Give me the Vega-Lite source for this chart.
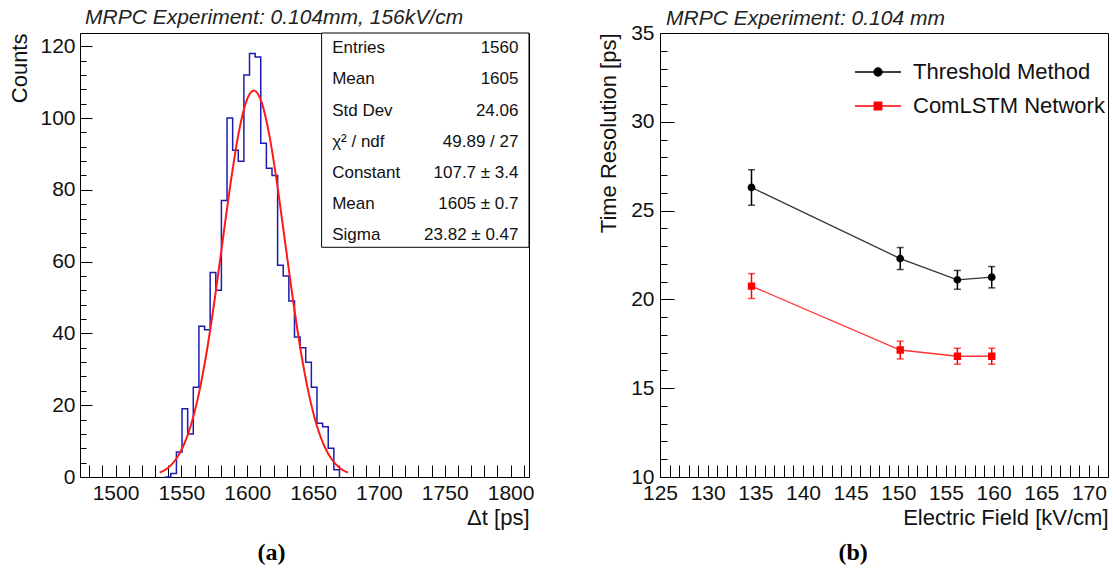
{
  "$schema": "https://vega.github.io/schema/vega-lite/v6.json",
  "background": "white",
  "padding": {"left": 8, "top": 6, "right": 2, "bottom": 2},
  "spacing": 62,
  "resolve": {"legend": {"color": "independent", "shape": "independent"}},
  "config": {
    "view": {"stroke": "black", "strokeWidth": 1},
    "font": "Liberation Sans",
    "axis": {"grid": false, "domain": false, "ticks": true, "tickColor": "black", "labelFont": "Liberation Sans", "labelFontSize": 21, "labelColor": "#111", "titleFont": "Liberation Sans", "titleFontSize": 22, "titleFontWeight": "normal", "titleColor": "#111", "labelFlush": false, "labelOverlap": false, "labelBound": false, "tickWidth": 1, "tickCount": 200, "format": "d"},
    "title": {"font": "Liberation Sans", "fontSize": 21, "fontStyle": "italic", "fontWeight": "normal", "color": "#222"}
  },
  "hconcat": [
    {
      "title": {"text": "(a)", "orient": "bottom", "font": "Liberation Serif", "fontStyle": "normal", "fontWeight": "bold", "fontSize": 24, "color": "#000", "anchor": "middle", "offset": 12},
      "vconcat": [
        {
          "width": 449,
          "height": 444,
          "title": {"text": "MRPC Experiment: 0.104mm, 156kV/cm", "anchor": "start", "frame": "group", "dx": 5, "offset": 5},
          "layer": [
            {
              "layer": [
                {
                  "data": {"values": [{"t":1537.69,"n":0},{"t":1541.96,"n":1},{"t":1546.23,"n":7},{"t":1550.5,"n":19},{"t":1554.77,"n":12},{"t":1559.04,"n":25},{"t":1563.31,"n":42},{"t":1567.58,"n":41},{"t":1571.85,"n":57},{"t":1576.12,"n":52},{"t":1580.39,"n":77},{"t":1584.66,"n":100},{"t":1588.93,"n":91},{"t":1593.2,"n":88},{"t":1597.47,"n":112},{"t":1601.74,"n":118},{"t":1606.01,"n":117},{"t":1610.28,"n":93},{"t":1614.55,"n":86},{"t":1618.82,"n":84},{"t":1623.09,"n":59},{"t":1627.36,"n":56},{"t":1631.63,"n":49},{"t":1635.9,"n":39},{"t":1640.17,"n":36},{"t":1644.44,"n":32},{"t":1648.71,"n":25},{"t":1652.98,"n":15},{"t":1657.25,"n":14},{"t":1661.52,"n":8},{"t":1665.79,"n":2},{"t":1670.06,"n":0}]},
                  "mark": {"type": "line", "interpolate": "step-after", "color": "#1c1cb0", "strokeWidth": 1.5},
                  "encoding": {
                    "x": {"field": "t", "type": "quantitative", "scale": {"domain": [1473, 1814], "nice": false, "zero": false},
                      "axis": {"title": "Δt [ps]", "titleAnchor": "end", "titlePadding": 4, "format": "d", "labelOverlap": false, "tickCount": 200, "ticks": true, "domain": false,
                        "values": [1480,1490,1500,1510,1520,1530,1540,1550,1560,1570,1580,1590,1600,1610,1620,1630,1640,1650,1660,1670,1680,1690,1700,1710,1720,1730,1740,1750,1760,1770,1780,1790,1800,1810],
                        "labelExpr": "datum.value % 50 === 0 ? datum.label : ''",
                        "offset": -12, "tickSize": 12, "labelPadding": 5,
                        "encode": {"ticks": {"update": {"y": {"signal": "datum.value % 50 === 0 ? 0 : 6"}}}}}},
                    "y": {"field": "n", "type": "quantitative", "scale": {"domain": [0, 123.7], "nice": false},
                      "axis": {"title": "Counts", "titleAnchor": "end", "titlePadding": 8, "format": "d", "labelOverlap": false, "tickCount": 200, "ticks": false, "domain": false,
                        "values": [0,4,8,12,16,20,24,28,32,36,40,44,48,52,56,60,64,68,72,76,80,84,88,92,96,100,104,108,112,116,120],
                        "labelExpr": "datum.value % 20 === 0 ? datum.label : ''",
                        "tickSize": 0, "labelPadding": 5,
                        "grid": true, "gridColor": "black", "gridOpacity": 1, "gridWidth": 1,
                        "gridDash": {"condition": {"test": "datum.value % 20 === 0", "value": [12, 2000]}, "value": [6, 2000]}}}
                  }
                },
                {
                  "data": {"values": [{"t":1533.54,"f":1.2},{"t":1539.5,"f":2.45},{"t":1545.45,"f":4.73},{"t":1551.41,"f":8.57},{"t":1557.36,"f":14.58},{"t":1563.32,"f":23.3},{"t":1569.27,"f":34.97},{"t":1575.23,"f":49.31},{"t":1581.18,"f":65.32},{"t":1587.14,"f":81.29},{"t":1593.09,"f":95.05},{"t":1599.05,"f":104.38},{"t":1605,"f":107.7},{"t":1610.96,"f":104.38},{"t":1616.91,"f":95.05},{"t":1622.87,"f":81.29},{"t":1628.82,"f":65.32},{"t":1634.78,"f":49.31},{"t":1640.73,"f":34.97},{"t":1646.69,"f":23.3},{"t":1652.64,"f":14.58},{"t":1658.6,"f":8.57},{"t":1664.55,"f":4.73},{"t":1670.51,"f":2.45},{"t":1676.46,"f":1.2}]},
                  "mark": {"type": "line", "interpolate": "monotone", "color": "#ff1a1a", "strokeWidth": 2},
                  "encoding": {
                    "x": {"field": "t", "type": "quantitative"},
                    "y": {"field": "f", "type": "quantitative"}
                  }
                },
                {
                  "data": {"values": [{"box": "stats"}]},
                  "mark": {"type": "rect", "fill": "white", "stroke": "black", "strokeWidth": 1},
                  "encoding": {
                    "x": {"datum": 1656.5, "type": "quantitative"},
                    "x2": {"datum": 1814},
                    "y": {"datum": 64, "type": "quantitative"},
                    "y2": {"datum": 123.7}
                  }
                }
              ]
            },
            {
              "data": {"values": [{"i":1,"k":"Entries","v":"1560"},{"i":2,"k":"Mean","v":"1605"},{"i":3,"k":"Std Dev","v":"24.06"},{"i":4,"k":"χ² / ndf","v":"49.89 / 27"},{"i":5,"k":"Constant","v":"107.7 ± 3.4"},{"i":6,"k":"Mean","v":"1605 ± 0.7"},{"i":7,"k":"Sigma","v":"23.82 ± 0.47"}]},
              "encoding": {
                "y": {"field": "i", "type": "quantitative", "scale": {"domain": [0.51, 14.74], "reverse": true, "nice": false, "zero": false}, "axis": null}
              },
              "layer": [
                {
                  "mark": {"type": "text", "align": "left", "baseline": "middle", "font": "Liberation Sans", "fontSize": 17, "color": "#111"},
                  "encoding": {"x": {"datum": 1664.5, "type": "quantitative"}, "text": {"field": "k"}}
                },
                {
                  "mark": {"type": "text", "align": "right", "baseline": "middle", "font": "Liberation Sans", "fontSize": 17, "color": "#111"},
                  "encoding": {"x": {"datum": 1806, "type": "quantitative"}, "text": {"field": "v"}}
                }
              ]
            }
          ],
          "resolve": {"scale": {"y": "independent"}}
        }
      ]
    },
    {
      "title": {"text": "(b)", "orient": "bottom", "font": "Liberation Serif", "fontStyle": "normal", "fontWeight": "bold", "fontSize": 24, "color": "#000", "anchor": "middle", "offset": 12},
      "resolve": {"legend": {"color": "independent", "shape": "independent"}},
      "vconcat": [
        {
          "width": 448,
          "height": 444,
          "title": {"text": "MRPC Experiment: 0.104 mm", "anchor": "start", "frame": "group", "dx": 6, "offset": -7},
          "data": {"values": [
            {"E":134.6,"res":26.3,"err":1.0,"method":"Threshold Method"},
            {"E":150.2,"res":22.3,"err":0.62,"method":"Threshold Method"},
            {"E":156.2,"res":21.1,"err":0.53,"method":"Threshold Method"},
            {"E":159.8,"res":21.25,"err":0.6,"method":"Threshold Method"},
            {"E":134.6,"res":20.75,"err":0.7,"method":"ComLSTM Network"},
            {"E":150.2,"res":17.15,"err":0.5,"method":"ComLSTM Network"},
            {"E":156.2,"res":16.8,"err":0.45,"method":"ComLSTM Network"},
            {"E":159.8,"res":16.8,"err":0.45,"method":"ComLSTM Network"}
          ]},
          "layer": [
            {
              "mark": {"type": "line", "strokeWidth": 1.3, "opacity": 0.8},
              "encoding": {
                "x": {"field": "E", "type": "quantitative", "scale": {"domain": [125, 172], "nice": false, "zero": false},
                  "axis": {"title": "Electric Field [kV/cm]", "titleAnchor": "end", "titlePadding": 4, "format": "d", "labelOverlap": false, "tickCount": 200, "ticks": true, "domain": false,
                    "values": [125,126,127,128,129,130,131,132,133,134,135,136,137,138,139,140,141,142,143,144,145,146,147,148,149,150,151,152,153,154,155,156,157,158,159,160,161,162,163,164,165,166,167,168,169,170,171,172],
                    "labelExpr": "datum.value % 5 === 0 ? datum.label : ''",
                    "offset": -12, "tickSize": 12, "labelPadding": 5,
                    "encode": {"ticks": {"update": {"y": {"signal": "datum.value % 5 === 0 ? 0 : 6"}}}}}},
                "y": {"field": "res", "type": "quantitative", "title": "Time Resolution [ps]", "scale": {"domain": [10, 35], "nice": false, "zero": false},
                  "axis": {"title": "Time Resolution [ps]", "titleAnchor": "end", "titlePadding": 10, "format": "d", "labelOverlap": false, "tickCount": 200, "ticks": false, "domain": false,
                    "values": [10,11,12,13,14,15,16,17,18,19,20,21,22,23,24,25,26,27,28,29,30,31,32,33,34,35],
                    "labelExpr": "datum.value % 5 === 0 ? datum.label : ''",
                    "tickSize": 0, "labelPadding": 6,
                    "grid": true, "gridColor": "black", "gridOpacity": 1, "gridWidth": 1,
                    "gridDash": {"condition": {"test": "datum.value % 5 === 0", "value": [14, 2000]}, "value": [7, 2000]}}},
                "color": {"field": "method", "type": "nominal", "scale": {"domain": ["Threshold Method", "ComLSTM Network"], "range": ["#000000", "#ff0000"]},
                  "legend": {"title": null, "orient": "none", "legendX": 194, "legendY": 22, "padding": 0, "labelFont": "Liberation Sans", "labelFontSize": 22, "labelColor": "#111", "labelLimit": 400, "symbolSize": 2116, "clipHeight": 34, "rowPadding": 0, "labelOffset": 11, "symbolOpacity": 1,
                    "encode": {"symbols": {"update": {"stroke": {"signal": "datum.value === 'Threshold Method' ? 'black' : 'red'"}, "strokeWidth": {"value": 1.5}}}}}}
              }
            },
            {
              "mark": {"type": "errorbar", "ticks": {"size": 7}, "thickness": 1.5},
              "encoding": {
                "x": {"field": "E", "type": "quantitative"},
                "y": {"field": "res", "type": "quantitative", "title": "Time Resolution [ps]"},
                "yError": {"field": "err"},
                "color": {"field": "method", "type": "nominal"}
              }
            },
            {
              "mark": {"type": "point", "filled": true, "size": 2116, "opacity": 1},
              "encoding": {
                "x": {"field": "E", "type": "quantitative"},
                "y": {"field": "res", "type": "quantitative", "title": "Time Resolution [ps]"},
                "color": {"field": "method", "type": "nominal"},
                "shape": {"field": "method", "type": "nominal",
                  "scale": {"domain": ["Threshold Method", "ComLSTM Network"], "range": ["M-1,0H1M0.17,0A0.17,0.17,0,1,1,-0.17,0A0.17,0.17,0,1,1,0.17,0Z", "M-1,0H1M-0.16,-0.16H0.16V0.16H-0.16Z"]},
                  "legend": {"title": null, "orient": "none", "legendX": 194, "legendY": 22, "padding": 0, "labelFont": "Liberation Sans", "labelFontSize": 22, "labelColor": "#111", "labelLimit": 400, "symbolSize": 2116, "clipHeight": 34, "rowPadding": 0, "labelOffset": 11, "symbolOpacity": 1,
                    "encode": {"symbols": {"update": {"stroke": {"signal": "datum.value === 'Threshold Method' ? 'black' : 'red'"}, "strokeWidth": {"value": 1.5}}}}}}
              }
            }
          ]
        }
      ]
    }
  ]
}
